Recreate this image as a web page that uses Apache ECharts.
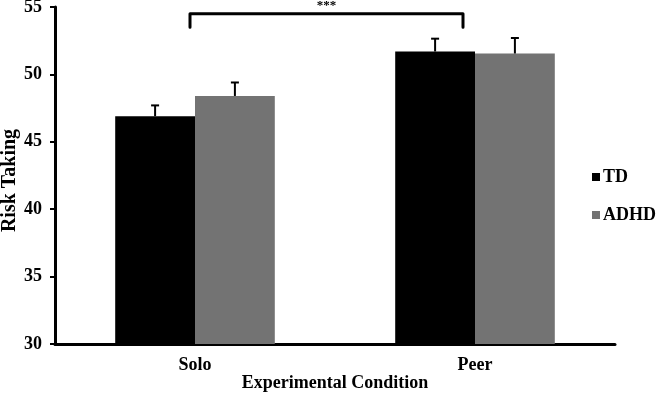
<!DOCTYPE html>
<html><head><meta charset="utf-8">
<script src="https://cdn.jsdelivr.net/npm/echarts@6/dist/echarts.min.js"></script>
<style>html,body{margin:0;padding:0;background:#fff}#c{width:657px;height:393px}</style>
</head><body><div id="c"></div>
<script>
const categories = ['Solo', 'Peer'];
const tdValues = [46.9, 51.7];
const tdErrTop = [47.7, 52.65];
const adhdValues = [48.4, 51.55];
const adhdErrTop = [49.4, 52.7];
const yTicks = [30, 35, 40, 45, 50, 55];
const bracket = {from: 'Solo', to: 'Peer', top: 54.5, bottom: 53.5, label: '***'};

const FONT = '"Liberation Serif", "DejaVu Serif", serif';
const GAP = 0.43;

function errSeries(name, vals, tops, side) {
  return {
    type: 'custom', name: name + ' err', silent: true, z: 5,
    data: categories.map((c, i) => [i, vals[i], tops[i]]),
    renderItem: function (params, api) {
      const band = api.size([1, 0])[0];
      const barW = band * (1 - GAP) / 2;
      const base = api.coord([api.value(0), api.value(1)]);
      const top = api.coord([api.value(0), api.value(2)]);
      const x = base[0] + side * barW / 2;
      const st = {stroke: '#000', lineWidth: 2};
      return {type: 'group', children: [
        {type: 'line', shape: {x1: x, y1: base[1], x2: x, y2: top[1]}, style: st},
        {type: 'line', shape: {x1: x - 4, y1: top[1], x2: x + 4, y2: top[1]}, style: st}
      ]};
    }
  };
}

const chart = echarts.init(document.getElementById('c'));
chart.setOption({
  animation: false,
  grid: {left: 55, right: 42, top: 7, bottom: 49, containLabel: false, outerBoundsMode: 'none'},
  legend: {
    orient: 'vertical', left: 587, top: 163, itemWidth: 8, itemHeight: 8, itemGap: 20,
    icon: 'rect',
    data: ['TD', 'ADHD'],
    textStyle: {fontFamily: FONT, fontWeight: 'bold', fontSize: 18, color: '#000', padding: [0, 0, 0, -2]}
  },
  xAxis: {
    type: 'category', data: categories,
    name: 'Experimental Condition', nameLocation: 'middle', nameGap: 30, nameMoveOverlap: false,
    nameTextStyle: {fontFamily: FONT, fontWeight: 'bold', fontSize: 18, color: '#000'},
    axisLine: {lineStyle: {color: '#000', width: 3}},
    axisTick: {length: 5, lineStyle: {color: '#000', width: 2}},
    axisLabel: {fontFamily: FONT, fontWeight: 'bold', fontSize: 18, color: '#000', margin: 12}
  },
  yAxis: {
    type: 'value', min: yTicks[0], max: yTicks[yTicks.length - 1], interval: 5,
    name: 'Risk Taking', nameLocation: 'middle', nameGap: 35, nameMoveOverlap: false,
    nameTextStyle: {fontFamily: FONT, fontWeight: 'bold', fontSize: 20, color: '#000', padding: [0, 10, 0, 0]},
    axisLine: {show: true, lineStyle: {color: '#000', width: 3}},
    axisTick: {show: true, length: 5, lineStyle: {color: '#000', width: 2}},
    axisLabel: {fontFamily: FONT, fontWeight: 'bold', fontSize: 18, color: '#000', margin: 13},
    splitLine: {show: false}
  },
  series: [
    {name: 'TD', type: 'bar', data: tdValues, barGap: '0%', barCategoryGap: (GAP * 100) + '%',
     itemStyle: {color: '#000'}},
    {name: 'ADHD', type: 'bar', data: adhdValues, barGap: '0%', barCategoryGap: (GAP * 100) + '%',
     itemStyle: {color: '#737373'}},
    errSeries('TD', tdValues, tdErrTop, -1),
    errSeries('ADHD', adhdValues, adhdErrTop, 1),
    {
      type: 'custom', name: 'bracket', silent: true, z: 6,
      data: [[categories.indexOf(bracket.from), categories.indexOf(bracket.to), bracket.top, bracket.bottom]],
      renderItem: function (params, api) {
        const a = api.coord([api.value(0), api.value(2)]);
        const b = api.coord([api.value(1), api.value(2)]);
        const lo = api.coord([api.value(0), api.value(3)]);
        const x1 = a[0] - 5, x2 = b[0] - 12, y = a[1], y2 = lo[1];
        return {type: 'group', children: [
          {type: 'polyline', shape: {points: [[x1, y2], [x1, y], [x2, y], [x2, y2]]},
           style: {stroke: '#000', lineWidth: 3, fill: null, lineJoin: 'round', lineCap: 'round'}},
          {type: 'text', x: (x1 + x2) / 2, y: y - 2,
           style: {text: bracket.label, fontFamily: FONT, fontWeight: 'bold', fontSize: 13,
                   fill: '#000', align: 'center', verticalAlign: 'bottom'}}
        ]};
      }
    }
  ]
});
</script></body></html>
